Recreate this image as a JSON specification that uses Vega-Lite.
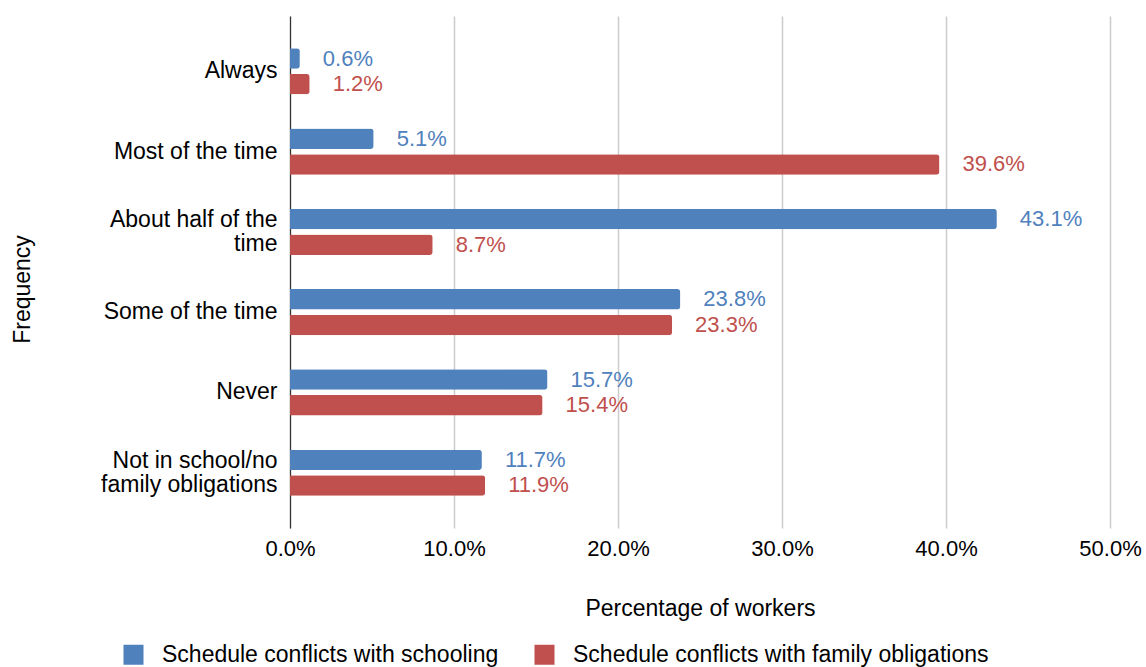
{
  "$schema": "https://vega.github.io/schema/vega-lite/v6.json",
  "width": 820,
  "height": 512,
  "autosize": "none",
  "padding": {"left": 290, "top": 16, "right": 36, "bottom": 139},
  "background": "white",
  "config": {
    "font": "Liberation Sans",
    "view": {"stroke": null}
  },
  "data": {
    "values": [
      {"frequency": "Always", "series": "Schedule conflicts with schooling", "pct": 0.006},
      {"frequency": "Always", "series": "Schedule conflicts with family obligations", "pct": 0.012},
      {"frequency": "Most of the time", "series": "Schedule conflicts with schooling", "pct": 0.051},
      {"frequency": "Most of the time", "series": "Schedule conflicts with family obligations", "pct": 0.396},
      {"frequency": "About half of the time", "series": "Schedule conflicts with schooling", "pct": 0.431},
      {"frequency": "About half of the time", "series": "Schedule conflicts with family obligations", "pct": 0.087},
      {"frequency": "Some of the time", "series": "Schedule conflicts with schooling", "pct": 0.238},
      {"frequency": "Some of the time", "series": "Schedule conflicts with family obligations", "pct": 0.233},
      {"frequency": "Never", "series": "Schedule conflicts with schooling", "pct": 0.157},
      {"frequency": "Never", "series": "Schedule conflicts with family obligations", "pct": 0.154},
      {"frequency": "Not in school/no family obligations", "series": "Schedule conflicts with schooling", "pct": 0.117},
      {"frequency": "Not in school/no family obligations", "series": "Schedule conflicts with family obligations", "pct": 0.119}
    ]
  },
  "encoding": {
    "y": {
      "field": "frequency",
      "type": "nominal",
      "sort": ["Always", "Most of the time", "About half of the time", "Some of the time", "Never", "Not in school/no family obligations"],
      "scale": {"paddingInner": 0, "paddingOuter": 0.19},
      "axis": {
        "title": "Frequency",
        "titleFontSize": 23,
        "titleFontWeight": "normal",
        "titleColor": "#000",
        "titlePadding": 66,
        "titleY": 273,
        "domain": true,
        "domainColor": "#333",
        "domainWidth": 1.2,
        "ticks": false,
        "grid": false,
        "labelFontSize": 23,
        "labelColor": "#000",
        "labelPadding": 13,
        "labelLineHeight": 24,
        "labelLimit": 300,
        "labelOffset": {"condition": {"test": "datum.value == 'About half of the time' || datum.value == 'Not in school/no family obligations'", "value": -12}, "value": 0},
        "labelExpr": "datum.value == 'About half of the time' ? ['About half of the', 'time'] : datum.value == 'Not in school/no family obligations' ? ['Not in school/no', 'family obligations'] : datum.value"
      }
    },
    "yOffset": {
      "field": "series",
      "type": "nominal",
      "sort": ["Schedule conflicts with schooling", "Schedule conflicts with family obligations"],
      "scale": {"paddingInner": 0.2, "paddingOuter": 0.67}
    },
    "x": {
      "field": "pct",
      "type": "quantitative",
      "scale": {"domain": [0, 0.5], "nice": false},
      "axis": {
        "title": "Percentage of workers",
        "titleFontSize": 23,
        "titleFontWeight": "normal",
        "titleColor": "#000",
        "titlePadding": 38,
        "values": [0, 0.1, 0.2, 0.3, 0.4, 0.5],
        "format": ".1%",
        "labelFlush": false,
        "labelOverlap": false,
        "domain": false,
        "ticks": false,
        "grid": true,
        "gridColor": "#cccccc",
        "gridWidth": 1.5,
        "labelFontSize": 22,
        "labelColor": "#000",
        "labelPadding": 10
      }
    },
    "color": {
      "field": "series",
      "type": "nominal",
      "sort": ["Schedule conflicts with schooling", "Schedule conflicts with family obligations"],
      "scale": {"range": ["#4f81bd", "#c0504d"]},
      "legend": {
        "title": null,
        "orient": "none",
        "legendX": -168,
        "legendY": 627,
        "direction": "horizontal",
        "labelFontSize": 23,
        "labelColor": "#000",
        "labelLimit": 500,
        "symbolType": "square",
        "symbolSize": 400,
        "symbolStrokeWidth": 0,
        "symbolOpacity": 1,
        "columnPadding": 34,
        "labelOffset": 17
      }
    }
  },
  "layer": [
    {"mark": {"type": "bar", "cornerRadiusEnd": 3}},
    {
      "mark": {"type": "text", "align": "left", "baseline": "middle", "dx": 23, "fontSize": 22},
      "encoding": {"text": {"field": "pct", "type": "quantitative", "format": ".1%"}}
    }
  ]
}
